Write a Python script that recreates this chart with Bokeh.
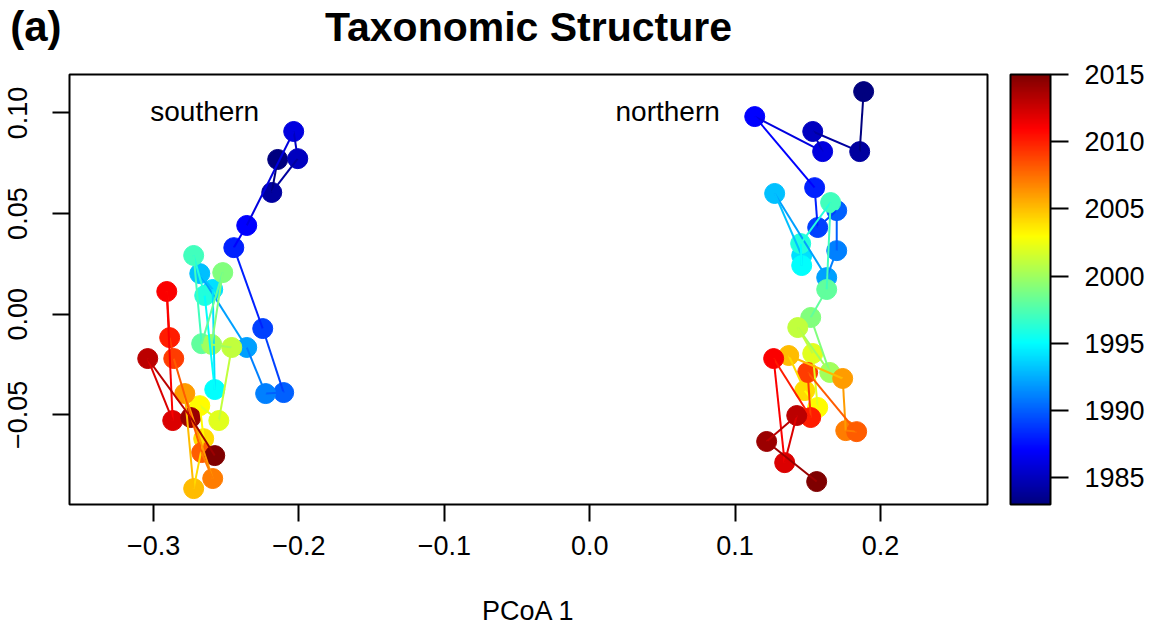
import numpy as np
from bokeh.plotting import figure
from bokeh.layouts import column
from bokeh.models import (ColumnDataSource, LinearColorMapper, ColorBar, FixedTicker,
                          CustomJSTickFormatter, Label, Range1d)
from bokeh.transform import transform
from bokeh.embed import file_html
from bokeh.resources import INLINE
from bokeh.core.properties import value

years = list(range(1983, 2016))

south_x = [-0.2146, -0.2187, -0.2008, -0.2036, -0.2359, -0.2448, -0.2249, -0.2105, -0.2229, -0.2359,
           -0.2682, -0.2593, -0.2579, -0.2648, -0.2724, -0.2669, -0.2524, -0.2600, -0.2462, -0.2551,
           -0.2682, -0.2655, -0.2724, -0.2785, -0.2593, -0.2669, -0.2861, -0.2889, -0.2909, -0.2868,
           -0.3040, -0.2744, -0.2579]
south_y = [0.0769, 0.0605, 0.0773, 0.0908, 0.0441, 0.0331, -0.0071, -0.0389, -0.0394, -0.0165,
           0.0202, 0.0123, -0.0374, 0.0093, 0.0292, -0.0146, 0.0207, -0.0150, -0.0165, -0.0528,
           -0.0454, -0.0618, -0.0866, -0.0394, -0.0816, -0.0687, -0.0220, -0.0116, 0.0113, -0.0528,
           -0.0220, -0.0513, -0.0702]

north_x = [0.1884, 0.1857, 0.1534, 0.1602, 0.1135, 0.1547, 0.1568, 0.1699, 0.1699, 0.1630,
           0.1272, 0.1458, 0.1458, 0.1451, 0.1657, 0.1630, 0.1520, 0.1651, 0.1431, 0.1534,
           0.1568, 0.1479, 0.1369, 0.1740, 0.1761, 0.1836, 0.1499, 0.1520, 0.1265, 0.1341,
           0.1424, 0.1217, 0.1561]
north_y = [0.1106, 0.0808, 0.0908, 0.0808, 0.0982, 0.0629, 0.0431, 0.0515, 0.0316, 0.0182,
           0.0600, 0.0292, 0.0242, 0.0351, 0.0555, 0.0123, -0.0016, -0.0289, -0.0066, -0.0195,
           -0.0463, -0.0379, -0.0205, -0.0319, -0.0578, -0.0583, -0.0289, -0.0513, -0.0220, -0.0737,
           -0.0503, -0.0632, -0.0831]

x_ticks = [-0.3, -0.2, -0.1, 0.0, 0.1, 0.2]
y_ticks = [-0.05, 0.0, 0.05, 0.10]
year_ticks = [1985, 1990, 1995, 2000, 2005, 2010, 2015]

title_text = "Taxonomic Structure"
panel_tag = "(a)"

anchors = ["#00007F", "#0000FF", "#007FFF", "#00FFFF", "#7FFF7F",
           "#FFFF00", "#FF7F00", "#FF0000", "#7F0000"]


def make_palette(cols, n):
    rgb = np.array([[int(c[i:i + 2], 16) for i in (1, 3, 5)] for c in cols], float)
    pos = np.linspace(0, 1, len(cols))
    t = np.linspace(0, 1, n)
    chans = [np.interp(t, pos, rgb[:, k]) for k in range(3)]
    return ["#%02x%02x%02x" % (int(round(r)), int(round(g)), int(round(b)))
            for r, g, b in zip(*chans)]


palette = make_palette(anchors, 256)
mapper = LinearColorMapper(palette=palette, low=1983, high=2015)

FONT = "Liberation Sans"
LEFT, FW, FH, RIGHT = 69, 918, 430, 172
HEAD_H, GAP = 56, 18          # header strip height and the main plot's top border
TITLE_MID = HEAD_H - 26       # text middle, measured upward from the bottom of the header strip

# ---- header strip: same side borders as the main plot so the frames line up ----
head = figure(frame_width=FW, frame_height=HEAD_H, output_backend="svg", toolbar_location=None,
              x_range=Range1d(LEFT, LEFT + FW), y_range=Range1d(0, HEAD_H),
              min_border_left=LEFT, min_border_right=RIGHT,
              min_border_top=0, min_border_bottom=0)
head.xaxis.visible = False
head.grid.visible = False
head.outline_line_color = None
head.yaxis.ticker = FixedTicker(ticks=[TITLE_MID])
head.yaxis.formatter = CustomJSTickFormatter(code="return '%s';" % panel_tag)
head.yaxis.axis_line_color = None
head.yaxis.major_tick_line_color = None
head.yaxis.minor_tick_line_color = None
head.yaxis.major_tick_out = 0
head.yaxis.major_tick_in = 0
head.yaxis.major_label_standoff = 8
head.yaxis.major_label_text_font = FONT
head.yaxis.major_label_text_font_size = "42px"
head.yaxis.major_label_text_font_style = "bold"
head.yaxis.major_label_text_color = "black"
head.text(x=[LEFT + FW / 2], y=[TITLE_MID], text=[title_text], text_font=value(FONT),
          text_font_size="41px", text_font_style="bold", text_align="center",
          text_baseline="middle", text_color="black")

# ---- main ordination plot ----
p = figure(frame_width=FW, frame_height=FH, output_backend="svg", toolbar_location=None,
           x_range=Range1d(-0.3578, 0.2736), y_range=Range1d(-0.0945, 0.1191),
           min_border_left=LEFT, min_border_top=GAP, min_border_bottom=0, min_border_right=RIGHT)
p.grid.visible = False
p.outline_line_color = "black"
p.outline_line_width = 2
p.outline_line_alpha = 1

for ax in (p.xaxis[0], p.yaxis[0]):
    ax.axis_line_color = None
    ax.major_tick_line_color = "black"
    ax.major_tick_line_width = 2
    ax.major_tick_out = 17
    ax.major_tick_in = 0
    ax.minor_tick_line_color = None
    ax.major_label_text_font = FONT
    ax.major_label_text_font_size = "27px"
    ax.major_label_text_color = "black"

p.xaxis.ticker = FixedTicker(ticks=x_ticks)
p.xaxis.formatter = CustomJSTickFormatter(
    code="return (tick < -1e-9 ? '\u2212' : '') + Math.abs(tick).toFixed(1);")
p.xaxis.major_label_standoff = 14
p.xaxis.axis_label = "PCoA 1"
p.xaxis.axis_label_text_font = FONT
p.xaxis.axis_label_text_font_size = "27px"
p.xaxis.axis_label_text_font_style = "normal"
p.xaxis.axis_label_text_color = "black"
p.xaxis.axis_label_standoff = 38

p.yaxis.ticker = FixedTicker(ticks=y_ticks)
p.yaxis.formatter = CustomJSTickFormatter(
    code="return (tick < -1e-9 ? '\u2212' : '') + Math.abs(tick).toFixed(2);")
p.yaxis.major_label_orientation = "vertical"
p.yaxis.major_label_standoff = 25

color = transform("year", mapper)

for xs, ys in ((south_x, south_y), (north_x, north_y)):
    pts = ColumnDataSource(dict(x=xs, y=ys, year=years))
    p.scatter("x", "y", source=pts, size=20, fill_color=color, line_color=color, line_width=1)

for xs, ys in ((south_x, south_y), (north_x, north_y)):
    seg = ColumnDataSource(dict(x0=xs[:-1], y0=ys[:-1], x1=xs[1:], y1=ys[1:], year=years[:-1]))
    p.segment("x0", "y0", "x1", "y1", source=seg, line_color=color, line_width=2)

p.add_layout(Label(x=-0.2648, y=0.1008, text="southern", text_font=FONT, text_font_size="28px",
                   text_align="center", text_baseline="middle", text_color="black"))
p.add_layout(Label(x=0.0536, y=0.1008, text="northern", text_font=FONT, text_font_size="28px",
                   text_align="center", text_baseline="middle", text_color="black"))

cb = ColorBar(color_mapper=mapper, ticker=FixedTicker(ticks=year_ticks), width=40, height=FH,
              location=(23, 0), margin=0, padding=0,
              bar_line_color="black", bar_line_width=2,
              major_tick_out=18, major_tick_in=0, major_tick_line_color="black",
              major_tick_line_width=2, minor_tick_line_color=None,
              major_label_text_font=FONT, major_label_text_font_size="27px",
              major_label_text_color="black", label_standoff=16,
              background_fill_alpha=0, border_line_color=None)
p.add_layout(cb, "right")

layout = column(head, p, spacing=0)
open("out.html", "w").write(file_html(layout, INLINE))
